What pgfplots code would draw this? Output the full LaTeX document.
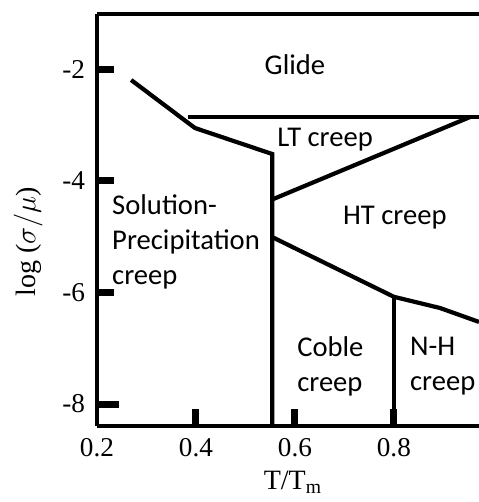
\documentclass[border=0pt]{standalone}
\usepackage{fontspec}
\setmainfont{Liberation Serif}
\newfontfamily\carlito{Carlito}
\usepackage{pgfplots}
\pgfplotsset{compat=1.18}
\begin{document}
\begin{tikzpicture}
\begin{axis}[
  scale only axis, width=191pt, height=206pt,
  xmin=0.2, xmax=0.972, ymin=-8.394, ymax=-1.015,
  axis x line=box, axis y line=left,
  axis line style={-, line width=2pt, black},
  x axis line style={-}, y axis line style={-},
  xtick pos=left, ytick pos=left,
  tick align=inside,
  xtick={0.4,0.6,0.8}, xticklabels={0.4,0.6,0.8},
  ytick={-6,-4,-2}, yticklabels={-6,-4,-2},
  extra x ticks={0.2}, extra x tick labels={0.2},
  extra y ticks={-8}, extra y tick labels={-8},
  extra x tick style={major tick length=0pt, grid=none},
  extra y tick style={major tick length=11pt, grid=none},
  major tick length=8.5pt,
  tick style={line width=3.5pt, black},
  ticklabel style={font=\fontsize{13.6}{15}\selectfont},
  xticklabel style={yshift=-2.5pt},
  yticklabel style={xshift=-2.5pt},
  xlabel={T/T$_{\mathrm{m}}$},
  ylabel={log ($\sigma/\mu$)},
  label style={font=\fontsize{14}{16}\selectfont},
  xlabel style={at={(axis description cs:0.513,-0.137)}, anchor=center},
  ylabel style={at={(axis description cs:-0.18,0.447)}, anchor=center},
  clip=true,
]
\addplot[black, line width=2.1pt] coordinates {(0.269,-2.197) (0.398,-3.057) (0.554,-3.522) (0.554,-8.394)};
\addplot[black, line width=2.1pt] coordinates {(0.384,-2.86) (0.972,-2.86)};
\addplot[black, line width=2.1pt] coordinates {(0.556,-4.33) (0.954,-2.86)};
\addplot[black, line width=2.1pt] coordinates {(0.554,-5.01) (0.800,-6.08) (0.893,-6.28) (0.972,-6.53)};
\addplot[black, line width=2.1pt] coordinates {(0.800,-6.08) (0.800,-8.394)};
\begin{scope}[every node/.style={font=\carlito\fontsize{14.3}{17.5}\selectfont, align=left, inner sep=0pt}]
\node[anchor=center] at (axis cs:0.600,-1.93) {Glide};
\node[anchor=center] at (axis cs:0.661,-3.27) {LT creep};
\node[anchor=center] at (axis cs:0.802,-4.67) {HT creep};
\node[anchor=west] at (axis cs:0.230,-5.10) {Solution-\\Precipitation\\creep};
\node[anchor=west] at (axis cs:0.604,-7.32) {Coble\\creep};
\node[anchor=west] at (axis cs:0.832,-7.32) {N-H\\creep};
\end{scope}
\end{axis}
\pgfresetboundingbox
\path ([xshift=-48.5pt,yshift=-38pt]current axis.south west) rectangle ([yshift=7pt]current axis.north east);
\end{tikzpicture}
\end{document}
